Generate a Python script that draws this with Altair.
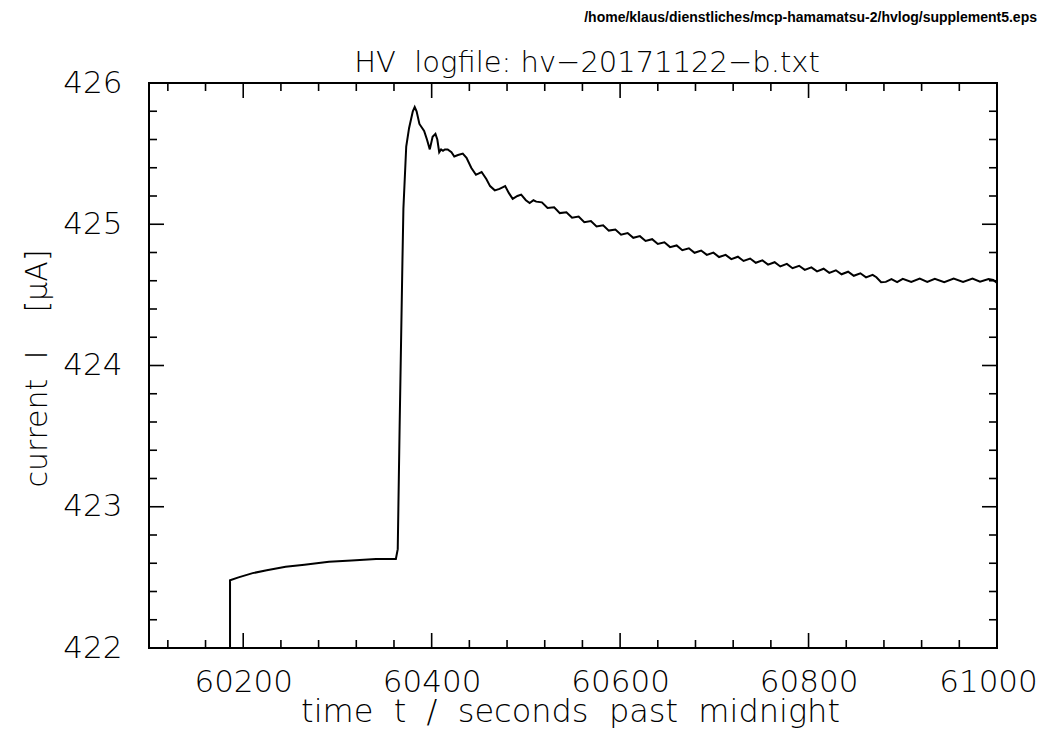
import altair as alt
import pandas as pd

# ---- data ----
t_sec = [
    60186, 60186, 60195, 60210, 60225, 60245, 60265, 60291, 60315, 60341,
    60362, 60364, 60366, 60369, 60370, 60373, 60376, 60380, 60382, 60384,
    60387, 60392, 60395, 60398, 60401, 60404, 60406, 60408, 60410, 60412,
    60414, 60417, 60421, 60424, 60428, 60433, 60437, 60442, 60447, 60453,
    60458, 60462, 60467, 60472, 60478, 60482, 60486, 60491, 60495, 60500,
    60504, 60508, 60511,
    60517, 60523, 60530, 60536, 60543, 60549, 60556, 60562, 60569, 60575,
    60582, 60588, 60595, 60601, 60608, 60614, 60621, 60627, 60634, 60640,
    60647, 60653, 60660, 60666, 60673, 60679, 60686, 60692, 60699, 60705,
    60712, 60718, 60725, 60731, 60738, 60744, 60751, 60757, 60764, 60770,
    60777, 60783, 60790, 60796, 60803, 60809, 60816, 60822, 60829, 60835,
    60842, 60848, 60855, 60861, 60868, 60872, 60877, 60882, 60888, 60894,
    60900, 60909, 60918, 60926, 60934, 60944, 60954, 60964, 60974, 60982,
    60991, 60996, 61000,
]
current_uA = [
    422.00, 422.48, 422.50, 422.53, 422.55, 422.575, 422.59, 422.61, 422.62, 422.63,
    422.63, 422.70, 423.57, 424.75, 425.11, 425.55, 425.68, 425.80, 425.83, 425.80,
    425.71, 425.66, 425.60, 425.53, 425.62, 425.64, 425.60, 425.51, 425.53, 425.52,
    425.53, 425.53, 425.51, 425.48, 425.49, 425.50, 425.47, 425.40, 425.35, 425.37,
    425.32, 425.27, 425.24, 425.25, 425.27, 425.22, 425.18, 425.20, 425.21, 425.17,
    425.15, 425.17, 425.16,
    425.155, 425.115, 425.120, 425.079, 425.085, 425.046, 425.054, 425.015, 425.023, 424.985,
    424.993, 424.955, 424.963, 424.926, 424.938, 424.904, 424.916, 424.882, 424.894, 424.860,
    424.872, 424.838, 424.850, 424.816, 424.830, 424.798, 424.814, 424.783, 424.799, 424.768,
    424.783, 424.753, 424.770, 424.740, 424.757, 424.727, 424.744, 424.714, 424.731, 424.701,
    424.719, 424.689, 424.706, 424.677, 424.695, 424.666, 424.685, 424.656, 424.674, 424.646,
    424.664, 424.635, 424.653, 424.624, 424.642, 424.625, 424.590, 424.592, 424.612, 424.590,
    424.614, 424.591, 424.615, 424.592, 424.614, 424.590, 424.615, 424.592, 424.615, 424.593,
    424.612, 424.605, 424.585,
]

x_major = [60200, 60400, 60600, 60800, 61000]
x_minor = [60120, 60160, 60240, 60280, 60320, 60360, 60440, 60480, 60520, 60560,
           60640, 60680, 60720, 60760, 60840, 60880, 60920, 60960]
y_major = [422, 423, 424, 425, 426]
y_minor = [422.2, 422.4, 422.6, 422.8, 423.2, 423.4, 423.6, 423.8,
           424.2, 424.4, 424.6, 424.8, 425.2, 425.4, 425.6, 425.8]

NB = "\u00a0"  # non-collapsing space
title_text = "HV" + NB * 2 + "logfile:" + NB + "hv\u221220171122\u2212b.txt"
path_text = "/home/klaus/dienstliches/mcp-hamamatsu-2/hvlog/supplement5.eps"
x_title = ("time" + NB * 2 + "t" + NB * 2 + "/" + NB * 2 + "seconds" + NB * 2
           + "past" + NB * 2 + "midnight")
y_title = "current" + NB * 2 + "I" + NB * 4 + "[\u03bcA]"

W, H = 848, 565
MAJ, MIN = 15, 8
FONT = "DejaVu Sans"

df = pd.DataFrame({"t": t_sec, "I": current_uA, "i": range(len(t_sec))})
xs = alt.Scale(domain=[60100, 61000], nice=False, zero=False)
ys = alt.Scale(domain=[422, 426], nice=False, zero=False)

x_axis = alt.Axis(values=x_major, ticks=False, domain=False, grid=False,
                  labelFontSize=31, labelFont=FONT, labelFontWeight=200,
                  labelColor="black", labelPadding=19, labelFlush=False,
                  labelOffset={"condition": {"test": "datum.value == 61000", "value": -9},
                               "value": 0},
                  format="d",
                  titleFontSize=32, titleFont=FONT, titleFontWeight=200,
                  titleColor="black", titleX=W / 2 - 3, titleY=73,
                  titleAlign="center", titleBaseline="alphabetic")
y_axis = alt.Axis(values=y_major, ticks=False, domain=False, grid=False,
                  labelFontSize=31, labelFont=FONT, labelFontWeight=200,
                  labelColor="black", labelPadding=27, format="d",
                  titleFontSize=30, titleFont=FONT, titleFontWeight=200,
                  titleColor="black", titleX=-112, titleY=368 - 83,
                  titleAngle=-90, titleAlign="center", titleBaseline="middle")

line = alt.Chart(df).mark_line(color="black", strokeWidth=2, clip=True).encode(
    x=alt.X("t:Q", scale=xs, title=x_title, axis=x_axis),
    y=alt.Y("I:Q", scale=ys, title=y_title, axis=y_axis),
    order=alt.Order("i:Q"),
)

def xticks(vals, length, top):
    d = pd.DataFrame({"t": vals})
    if top:
        enc = dict(y=alt.value(0), y2=alt.value(length))
    else:
        enc = dict(y=alt.value(H), y2=alt.value(H - length))
    return alt.Chart(d).mark_rule(color="black", strokeWidth=1.6).encode(
        x=alt.X("t:Q", scale=xs, title=x_title, axis=x_axis), **enc)

def yticks(vals, length, right):
    d = pd.DataFrame({"I": vals})
    if right:
        enc = dict(x=alt.value(W), x2=alt.value(W - length))
    else:
        enc = dict(x=alt.value(0), x2=alt.value(length))
    return alt.Chart(d).mark_rule(color="black", strokeWidth=1.6).encode(
        y=alt.Y("I:Q", scale=ys, title=y_title, axis=y_axis), **enc)

path_label = alt.Chart(pd.DataFrame({"s": [path_text]})).mark_text(
    align="right", baseline="alphabetic", font="Liberation Sans", fontWeight="bold",
    fontSize=14, color="black"
).encode(x=alt.value(W + 40), y=alt.value(-61), text="s:N")

title_label = alt.Chart(pd.DataFrame({"s": [title_text]})).mark_text(
    align="center", baseline="alphabetic", font=FONT, fontWeight=200,
    fontSize=29, color="black"
).encode(x=alt.value(W / 2 + 14), y=alt.value(-11), text="s:N")

chart = alt.layer(
    line,
    xticks(x_major, MAJ, False), xticks(x_minor, MIN, False),
    xticks(x_major, MAJ, True), xticks(x_minor, MIN, True),
    yticks(y_major, MAJ, False), yticks(y_minor, MIN, False),
    yticks(y_major, MAJ, True), yticks(y_minor, MIN, True),
    path_label, title_label,
).properties(
    width=W, height=H,
    background="white",
    autosize=alt.AutoSizeParams(type="none"),
    padding={"left": 141, "top": 75, "right": 41, "bottom": 81},
).configure_view(stroke="black", strokeWidth=2)

chart.save("out.html", embed_options={"renderer": "svg", "actions": False})
